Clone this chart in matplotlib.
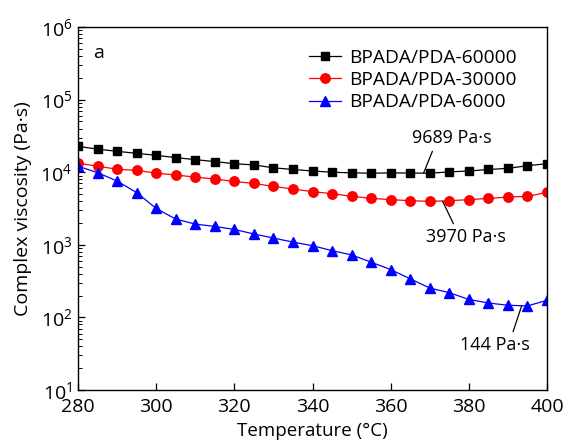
import numpy as np
import matplotlib
matplotlib.use('Agg')
import matplotlib.pyplot as plt
from matplotlib.ticker import LogLocator, NullFormatter

plt.rcParams['font.family'] = ['Open Sans', 'DejaVu Sans']
plt.rcParams['mathtext.default'] = 'regular'

# temperature sweep, every 5 degC
temperature = np.arange(280, 401, 5)

eta_60000 = [22700, 20800, 19400, 18200, 17100, 15900, 14900, 14000, 13100, 12600,
             11500, 10900, 10400, 10000, 9800, 9700, 9780, 9750, 9689, 10100,
             10400, 10900, 11300, 12300, 13100]
eta_30000 = [13300, 12100, 11000, 10600, 9720, 9140, 8570, 8050, 7460, 7010,
             6370, 5870, 5400, 5060, 4650, 4370, 4190, 4055, 3970, 4050,
             4190, 4360, 4550, 4650, 5270]
eta_6000 = [12100, 9860, 7560, 5240, 3170, 2260, 1930, 1790, 1630, 1410,
            1240, 1090, 973, 831, 726, 577, 456, 340, 254, 219,
            177, 158, 147, 144, 172]

labels = ['BPADA/PDA-60000', 'BPADA/PDA-30000', 'BPADA/PDA-6000']

# (temperature, value, label) for the minimum viscosity call-outs
min_notes = [
    (368.4, 9689, '9689 Pa·s'),
    (373.3, 3970, '3970 Pa·s'),
    (393.5, 144, '144 Pa·s'),
]


def main():
    fig = plt.figure(figsize=(5.64, 4.4), dpi=100)
    ax = fig.add_axes([0.1383, 0.1136, 0.8316, 0.825])

    styles = [('black', 's', 6.0), ('red', 'o', 6.8), ('blue', '^', 7.0)]
    for series, label, (c, m, ms) in zip([eta_60000, eta_30000, eta_6000], labels, styles):
        ax.plot(temperature, series, color=c, marker=m, markersize=ms,
                linewidth=0.9, markeredgecolor=c, markerfacecolor=c, label=label)

    ax.set_yscale('log')
    ax.set_xlim(280, 400)
    ax.set_ylim(10, 1e6)
    ax.set_xticks(np.arange(280, 401, 20))
    ax.yaxis.set_minor_locator(LogLocator(base=10, subs=np.arange(2, 10)))
    ax.yaxis.set_minor_formatter(NullFormatter())

    ax.tick_params(axis='both', which='major', direction='in', length=5, width=0.9,
                   labelsize=14)
    ax.tick_params(axis='x', which='major', pad=6)
    ax.tick_params(axis='y', which='major', pad=4)
    ax.tick_params(axis='y', which='minor', direction='in', length=3, width=0.7)
    ax.tick_params(axis='x', which='minor', bottom=False)
    for sp in ax.spines.values():
        sp.set_linewidth(1.0)

    ax.set_xlabel('Temperature (°C)', fontsize=13.5, labelpad=4)
    ax.set_ylabel('Complex viscosity (Pa·s)', fontsize=14, labelpad=6)

    ax.text(0.043, 0.928, 'a', transform=ax.transAxes, fontsize=14,
            ha='center', va='center')

    ax.legend(loc='upper right', bbox_to_anchor=(0.936, 0.94), frameon=False,
              fontsize=13.8, handlelength=1.67, handletextpad=0.42,
              labelspacing=0.22, borderpad=0, borderaxespad=0)

    offsets = [((20.2, 25.2), (0.28, 0.0)),
               ((16.6, -25.5), (0.37, 1.0)),
               ((-19.2, -28.0), (0.74, 1.0))]
    for (t, v, txt), (off, rp) in zip(min_notes, offsets):
        ax.annotate(txt, xy=(t, v), xytext=off, textcoords='offset points',
                    ha='center', va='center', fontsize=13,
                    arrowprops=dict(arrowstyle='-', color='black', lw=0.9,
                                    relpos=rp, shrinkA=1, shrinkB=0))

    fig.savefig('out.png', dpi=100)


if __name__ == '__main__':
    main()
